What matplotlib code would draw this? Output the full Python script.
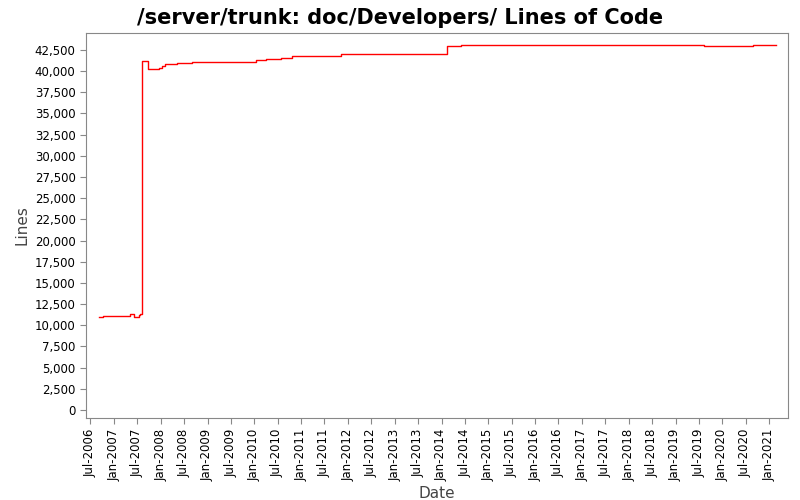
import matplotlib
matplotlib.use("Agg")
import matplotlib.pyplot as plt
import matplotlib.dates as mdates
from matplotlib.ticker import FuncFormatter, MultipleLocator
import datetime as dt

dates = ["2006-09-10","2006-10-05","2007-05-08","2007-06-05","2007-07-18","2007-07-25",
         "2007-08-05","2007-09-20","2007-12-10","2007-12-18","2008-01-08","2008-02-05",
         "2008-05-05","2008-09-01","2010-01-10","2010-04-01","2010-07-25","2010-10-25",
         "2011-11-05","2014-02-15","2014-05-30","2019-08-08","2020-08-25","2021-02-20"]
lines = [10950,11060,11300,10950,11180,11330,41240,40220,40290,40410,40570,40810,
         40930,41050,41280,41400,41520,41790,42000,42950,43100,43000,43100,43100]

x = [dt.datetime.strptime(d, "%Y-%m-%d") for d in dates]

fig = plt.figure(figsize=(8, 5), dpi=100)
ax = fig.add_axes([0.1075, 0.164, 0.8775, 0.77])
ax.step(x, lines, where="post", color="#ff0000", lw=1)
ax.set_xlim(dt.datetime(2006, 5, 28), dt.datetime(2021, 5, 28))
ax.set_ylim(-950, 44500)
ax.yaxis.set_major_locator(MultipleLocator(2500))
ax.yaxis.set_major_formatter(FuncFormatter(lambda v, p: f"{int(v):,}"))
ax.xaxis.set_major_locator(mdates.MonthLocator(bymonth=[1, 7]))
ax.xaxis.set_major_formatter(mdates.DateFormatter("%b-%Y"))
for lab in ax.get_xticklabels():
    lab.set_rotation(90)
ax.tick_params(labelsize=8.5, color="#888888", length=4)
for s in ax.spines.values():
    s.set_color("#888888")
ax.set_xlabel("Date", fontsize=11, color="#444444")
ax.set_ylabel("Lines", fontsize=11, color="#444444")
fig.suptitle("/server/trunk: doc/Developers/ Lines of Code", fontsize=15, fontweight="bold", y=0.985)
fig.savefig("out.png")
